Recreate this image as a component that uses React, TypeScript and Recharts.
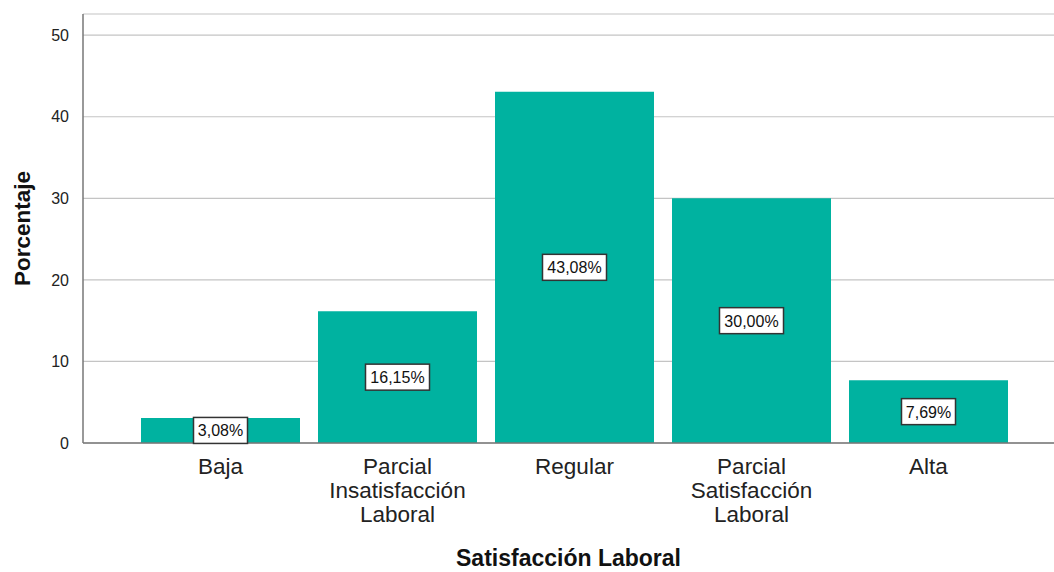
import React from 'react';
import { BarChart, Bar, XAxis, YAxis, CartesianGrid, LabelList, Label } from 'recharts';

const categories = ['Baja', 'Parcial\nInsatisfacción\nLaboral', 'Regular', 'Parcial\nSatisfacción\nLaboral', 'Alta'];
const percentages = [3.08, 16.15, 43.08, 30.0, 7.69];
const yTicks = [0, 10, 20, 30, 40, 50];

const data = categories.map((name, i) => ({ name, value: percentages[i] }));

const FONT = '"Liberation Sans", Arial, sans-serif';
const BAR_COLOR = '#00b2a0';

const fmt = (v: number) => v.toFixed(2).replace('.', ',') + '%';

const CategoryTick = (props: any) => {
  const { x, y, payload } = props;
  const lines = String(payload.value).split('\n');
  return (
    <text x={x} y={y} textAnchor="middle" fill="#222" fontSize={22.5} fontFamily={FONT}>
      {lines.map((line: string, i: number) => (
        <tspan key={i} x={x} dy={i === 0 ? 25 : 24}>
          {line}
        </tspan>
      ))}
    </text>
  );
};

const BoxLabel = (props: any) => {
  const { x, y, width, height, value } = props;
  const cx = x + width / 2;
  const cy = y + height / 2;
  const text = fmt(value);
  const w = text.length * 10 + 4;
  const h = 26;
  return (
    <g>
      <rect x={cx - w / 2} y={cy - h / 2} width={w} height={h} fill="#fff" stroke="#333" strokeWidth={1.5} />
      <text x={cx} y={cy + 6} textAnchor="middle" fontSize={16} fontFamily={FONT} fill="#111">
        {text}
      </text>
    </g>
  );
};

export default function App() {
  return (
    <div style={{ position: 'absolute', left: 0, top: 0, width: 1054, height: 572, background: '#fff' }}>
      <BarChart
        width={1054}
        height={572}
        data={data}
        margin={{ top: 14, right: 0, bottom: 0, left: 30 }}
        barCategoryGap={9}
      >
        <CartesianGrid vertical={false} stroke="#c4c4c4" strokeWidth={1.2} />
        <XAxis
          dataKey="name"
          interval={0}
          padding={{ left: 49, right: 37 }}
          axisLine={{ stroke: '#777', strokeWidth: 1.5 }}
          tickLine={false}
          tickMargin={0}
          height={129}
          tick={<CategoryTick />}
        >
          <Label
            value="Satisfacción Laboral"
            position="insideBottom"
            offset={6}
            style={{ fontSize: 23, fontWeight: 'bold', fontFamily: FONT, fill: '#111' }}
          />
        </XAxis>
        <YAxis
          type="number"
          domain={[0, 52.6]}
          ticks={yTicks}
          width={53}
          axisLine={{ stroke: '#777', strokeWidth: 1.5 }}
          tickLine={false}
          tickMargin={8}
          tick={{ fontSize: 16, fill: '#222', fontFamily: FONT }}
        >
          <Label
            value="Porcentaje"
            angle={-90}
            position="insideLeft"
            offset={-8}
            style={{ fontSize: 22.5, fontWeight: 'bold', fontFamily: FONT, fill: '#111', textAnchor: 'middle' }}
          />
        </YAxis>
        <Bar dataKey="value" fill={BAR_COLOR} isAnimationActive={false}>
          <LabelList dataKey="value" content={<BoxLabel />} />
        </Bar>
      </BarChart>
    </div>
  );
}
